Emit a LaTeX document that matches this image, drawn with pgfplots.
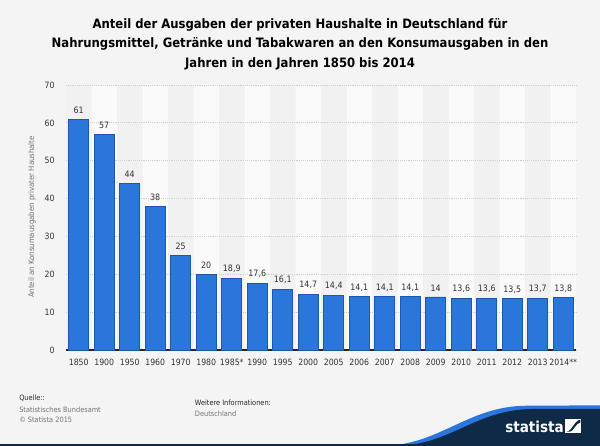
\documentclass[border=0pt]{standalone}
\usepackage{fontspec}
\setmainfont{DejaVu Sans Condensed}
\usepackage{pgfplots}
\pgfplotsset{compat=1.18}
\definecolor{bg}{HTML}{F4F4F4}
\definecolor{stripedark}{HTML}{F1F1F1}
\definecolor{stripelight}{HTML}{FAFAFA}
\definecolor{barfill}{HTML}{2A76DB}
\definecolor{bardraw}{HTML}{1A58B2}
\definecolor{gridc}{HTML}{CFCFCF}
\definecolor{tickc}{HTML}{333333}
\definecolor{navy}{HTML}{0E2A47}
\definecolor{swoosh}{HTML}{2A76DB}
\pgfplotsset{common/.style={
  at={(49.5pt,72pt)}, anchor=south west,
  scale only axis, width=382.5pt, height=198.75pt,
  xmin=-0.5, xmax=19.5, ymin=0, ymax=70}}
\begin{document}
\begin{tikzpicture}[x=1pt,y=1pt]
\fill[bg] (0,0) rectangle (450,334.5);
\node[align=center, font=\bfseries\fontsize{9.7}{14.6}\selectfont, text=black] at (225,301.5)
 {Anteil der Ausgaben der privaten Haushalte in Deutschland für\\
  Nahrungsmittel, Getränke und Tabakwaren an den Konsumausgaben in den\\
  Jahren in den Jahren 1850 bis 2014};
% background stripes
\begin{axis}[common, hide axis,
  axis background/.style={fill=stripelight}]
\addplot[ybar, bar width=1, bar shift=0pt, fill=stripedark, draw=none]
 coordinates {(0,70)(2,70)(4,70)(6,70)(8,70)(10,70)(12,70)(14,70)(16,70)(18,70)};
\end{axis}
\begin{axis}[common,
  axis x line=bottom, axis y line=left,
  x axis line style={draw=black!85, line width=0.9pt, -},
  y axis line style={draw=none},
  major tick length=0pt,
  xtick={0,...,19},
  xticklabels={1850,1900,1950,1960,1970,1980,1985*,1990,1995,2000,2005,2006,2007,2008,2009,2010,2011,2012,2013,2014**},
  ytick={0,10,...,70},
  ymajorgrids,
  grid style={gridc, densely dotted, line width=0.6pt},
  /pgf/number format/assume math mode=true,
  /pgf/number format/use comma,
  ticklabel style={font=\fontsize{6.5}{7}\selectfont, text=tickc},
  xticklabel style={yshift=-3pt},
  yticklabel style={xshift=-5pt},
  clip=false,
]
\addplot[ybar, bar width=0.78, bar shift=0pt, fill=barfill, draw=bardraw, line width=0.6pt,
  nodes near coords,
  nodes near coords style={font=\fontsize{6.6}{7}\selectfont, text=tickc, yshift=0.5pt}]
 coordinates {(0,61)(1,57)(2,44)(3,38)(4,25)(5,20)(6,18.9)(7,17.6)(8,16.1)(9,14.7)
              (10,14.4)(11,14.1)(12,14.1)(13,14.1)(14,14)(15,13.6)(16,13.6)(17,13.5)(18,13.7)(19,13.8)};
\end{axis}
\node[rotate=90, font=\fontsize{5.8}{6}\selectfont, text=black!55] at (24,171.75) {Anteil an Konsumausgaben privater Haushalte};
% footer
\begin{scope}[font=\fontsize{5.5}{6}\selectfont]
\node[anchor=west, inner sep=0, text=black!85] at (14.25,36) {Quelle::};
\node[anchor=west, inner sep=0, text=black!55] at (14.25,27.5) {Statistisches Bundesamt};
\node[anchor=west, inner sep=0, text=black!55] at (14.25,20) {© Statista 2015};
\node[anchor=west, inner sep=0, text=black!85] at (146,32.5) {Weitere Informationen:};
\node[anchor=west, inner sep=0, text=black!55] at (146,24.5) {Deutschland};
\end{scope}
% logo
\fill[swoosh] (285,0) .. controls (330,0) and (350,30) .. (395,30.2) -- (450,30.5) -- (450,0) -- cycle;
\fill[navy] (295,0) .. controls (338,0) and (356,27.6) .. (400,27.8) -- (450,27.8) -- (450,0) -- cycle;
\fill[navy] (0,0) rectangle (450,1.6);
\node[anchor=base west, text=white, font=\bfseries\fontsize{11.3}{12}\selectfont, inner sep=0] at (378.75,9.9) {statista};
\fill[white] (424,9.9) rectangle (436,20.4);
\fill[navy] (424.8,10.7) .. controls (429,11) and (431,19.5) .. (435.2,19.6) -- (435.2,17.5) .. controls (432,17.5) and (430,10.8) .. (427.5,10.7) -- cycle;
\end{tikzpicture}
\end{document}
